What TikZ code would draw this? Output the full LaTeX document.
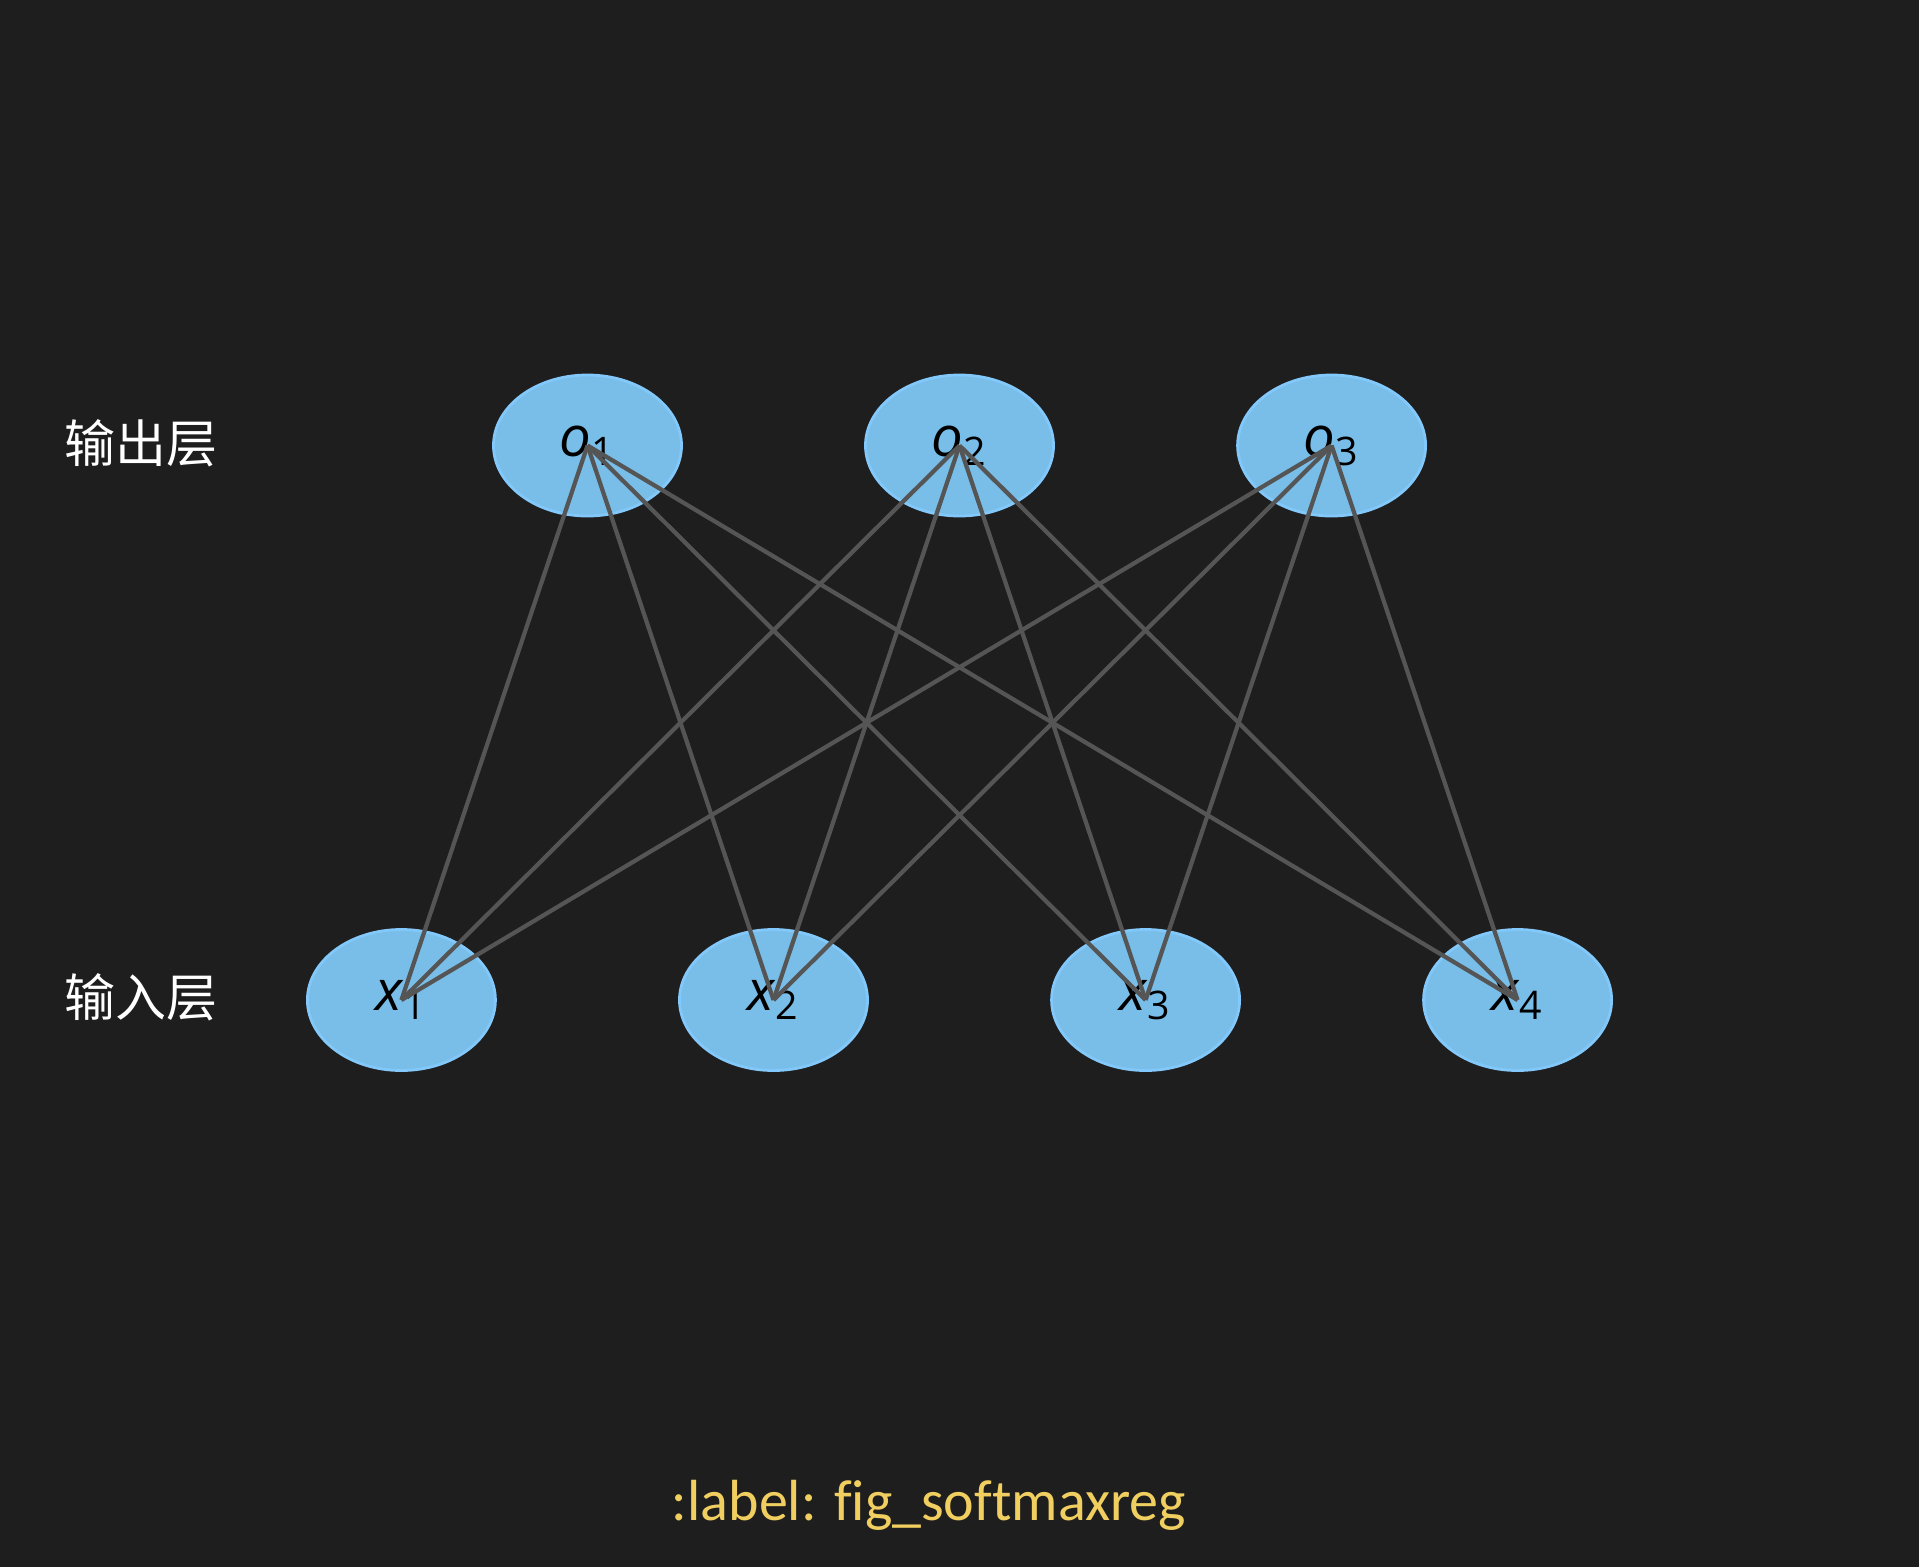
\documentclass[tikz,border=0pt]{standalone}
\usepackage{fontspec}
\setmainfont{Carlito}[Ligatures=CommonOff]
\newfontfamily\cjkfont{Noto Sans CJK SC}
\newfontfamily\varfont{Open Sans}
\usepackage{tikz}
\usetikzlibrary{shapes.geometric, positioning}
\definecolor{bgcolor}{RGB}{30,30,30}
\definecolor{neuroncolor}{RGB}{121,190,232}
\definecolor{neuronborder}{RGB}{130,200,250}
\definecolor{wirecolor}{RGB}{85,85,85}
\definecolor{labelcolor}{RGB}{240,207,96}

\begin{document}
\begin{tikzpicture}[
    neuron/.style={ellipse, draw=neuronborder, line width=0.8pt, fill=neuroncolor, minimum width=1.88cm, minimum height=1.41cm, inner sep=0pt, font=\varfont\fontsize{16}{19}\selectfont, text=black},
    layername/.style={font=\cjkfont\fontsize{14.5}{17}\selectfont, text=white},
    wire/.style={draw=wirecolor, line width=1.2pt},
    caption/.style={font=\fontsize{16.5}{20}\selectfont, text=labelcolor}
]
    % Background
    \fill[bgcolor] (0,0) rectangle (19.19,-15.67);

    % Layer names
    \node[layername] (outname) at (1.41,-4.43) {输出层};
    \node[layername] (inname) at (1.41,-9.97) {输入层};

    % Output layer
    \node[neuron] (o1) at (5.875,-4.455) {\textit{o}\textsubscript{1}};
    \node[neuron] (o2) at (9.595,-4.455) {\textit{o}\textsubscript{2}};
    \node[neuron] (o3) at (13.316,-4.455) {\textit{o}\textsubscript{3}};

    % Input layer
    \node[neuron] (x1) at (4.014,-10.0) {\textit{x}\textsubscript{1}};
    \node[neuron] (x2) at (7.735,-10.0) {\textit{x}\textsubscript{2}};
    \node[neuron] (x3) at (11.456,-10.0) {\textit{x}\textsubscript{3}};
    \node[neuron] (x4) at (15.176,-10.0) {\textit{x}\textsubscript{4}};

    % Connections
    \draw[wire] (o1.center) -- (x1.center);
    \draw[wire] (o1.center) -- (x2.center);
    \draw[wire] (o1.center) -- (x3.center);
    \draw[wire] (o1.center) -- (x4.center);
    \draw[wire] (o2.center) -- (x1.center);
    \draw[wire] (o2.center) -- (x2.center);
    \draw[wire] (o2.center) -- (x3.center);
    \draw[wire] (o2.center) -- (x4.center);
    \draw[wire] (o3.center) -- (x1.center);
    \draw[wire] (o3.center) -- (x2.center);
    \draw[wire] (o3.center) -- (x3.center);
    \draw[wire] (o3.center) -- (x4.center);

    % Caption
    \node[caption] (figlabel) at (9.29,-15.05) {:label: fig\_softmaxreg};
\end{tikzpicture}
\end{document}
